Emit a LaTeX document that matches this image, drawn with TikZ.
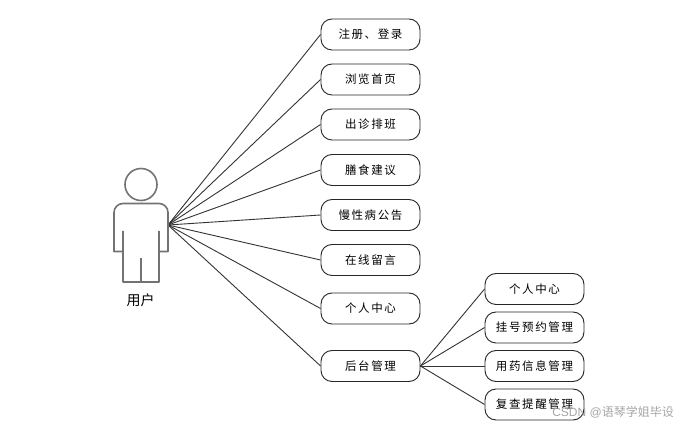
\documentclass[tikz,border=0pt]{standalone}
\usepackage{fontspec}
\setmainfont{Liberation Sans}
\newfontfamily\cjk{Noto Sans CJK SC}
\newfontfamily\cjksp[LetterSpace=14]{Noto Sans CJK SC}
\tikzset{
  box/.style={draw=black!85,line width=0.9pt,rounded corners=11pt,minimum width=99pt,minimum height=31pt,inner sep=0pt,font=\cjksp\fontsize{11.5pt}{13pt}\selectfont,text=black},
  link/.style={draw=black!80,line width=0.9pt},
  person/.style={draw=black!55,line width=1.6pt,line join=round}
}
\begin{document}
\begin{tikzpicture}[x=1pt,y=-1pt]
\useasboundingbox (0,0) rectangle (681,427);
\fill[white] (0,0) rectangle (681,427);
\coordinate (actor) at (168,225);
\node[box] (a1) at (370.5,34.5) {注册、登录};
\node[box] (a2) at (370.5,79.5) {浏览首页};
\node[box] (a3) at (370.5,124.5) {出诊排班};
\node[box] (a4) at (370.5,170) {膳食建议};
\node[box] (a5) at (370.5,215) {慢性病公告};
\node[box] (a6) at (370.5,260) {在线留言};
\node[box] (a7) at (370.5,308.5) {个人中心};
\node[box] (a8) at (370.5,366) {后台管理};
\node[box] (b1) at (534.5,289) {个人中心};
\node[box] (b2) at (534.5,327.5) {挂号预约管理};
\node[box] (b3) at (534.5,366) {用药信息管理};
\node[box] (b4) at (534.5,404.5) {复查提醒管理};
\foreach \n in {a1,a2,a3,a4,a5,a6,a7,a8} \draw[link] (actor) -- (\n.west);
\foreach \n in {b1,b2,b3,b4} \draw[link] (a8.east) -- (\n.west);
% person
\draw[person] (141,184.5) circle (16);
\draw[person] (123,231) -- (123,251.5) -- (114,251.5) -- (114,212.5) arc[start angle=180,end angle=270,radius=9] -- (159,203.5) arc[start angle=270,end angle=360,radius=9] -- (168,251.5) -- (159,251.5) -- (159,231);
\draw[person] (123,251.5) -- (123,282) -- (159,282) -- (159,251.5);
\draw[person] (141,258) -- (141,282);
\node[font=\cjk\fontsize{14pt}{16pt}\selectfont,inner sep=0pt] (lab) at (140.5,300) {用户};
\node[font=\cjk\fontsize{12pt}{15pt}\selectfont,text=black!35,inner sep=0pt,anchor=east] (mark) at (674,412.5) {\fontspec{Liberation Sans}CSDN @\cjk 语琴学姐毕设};
\end{tikzpicture}
\end{document}
